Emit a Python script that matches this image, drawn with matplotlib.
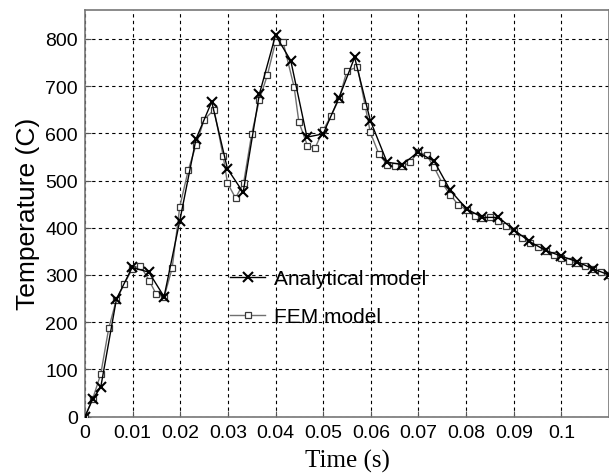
import matplotlib
matplotlib.use("Agg")
import matplotlib.pyplot as plt

# Analytical model (x markers)
t_analytical = [0, 0.0016, 0.0033, 0.0066, 0.0099, 0.0134, 0.0166, 0.0199, 0.0233,
                0.0266, 0.0299, 0.0332, 0.0366, 0.0400, 0.0432, 0.0466, 0.0500,
                0.0533, 0.0566, 0.0599, 0.0634, 0.0666, 0.0699, 0.0733, 0.0767,
                0.0801, 0.0834, 0.0868, 0.0900, 0.0933, 0.0967, 0.1000, 0.1033,
                0.1067, 0.1100]
T_analytical = [0, 37, 62, 249, 316, 306, 254, 415, 588,
                667, 525, 475, 683, 808, 754, 592, 599,
                675, 761, 627, 539, 534, 560, 541, 479,
                440, 422, 422, 396, 371, 352, 340, 328,
                313, 300]

# FEM model (square markers)
t_fem = [0, 0.0016, 0.0033, 0.0050, 0.0066, 0.0082, 0.0099, 0.0116, 0.0135, 0.0149,
         0.0166, 0.0183, 0.0199, 0.0217, 0.0233, 0.0250, 0.0271, 0.0290, 0.0299,
         0.0316, 0.0333, 0.0350, 0.0366, 0.0383, 0.0400, 0.0416, 0.0439, 0.0449,
         0.0467, 0.0483, 0.0500, 0.0516, 0.0533, 0.0550, 0.0572, 0.0588, 0.0599,
         0.0617, 0.0634, 0.0651, 0.0666, 0.0683, 0.0699, 0.0717, 0.0733, 0.0750,
         0.0767, 0.0783, 0.0801, 0.0818, 0.0834, 0.0851, 0.0868, 0.0884, 0.0900,
         0.0917, 0.0934, 0.0950, 0.0967, 0.0984, 0.1000, 0.1016, 0.1033, 0.1050,
         0.1067, 0.1084, 0.1100]
T_fem = [0, 37, 90, 188, 248, 280, 313, 320, 288, 260,
         253, 315, 445, 523, 575, 629, 650, 552, 495,
         463, 495, 599, 671, 724, 794, 793, 698, 624,
         574, 569, 607, 636, 672, 733, 740, 659, 602,
         556, 534, 530, 530, 539, 561, 554, 528, 494,
         470, 449, 438, 426, 421, 422, 415, 404, 393,
         378, 368, 359, 350, 342, 337, 330, 325, 318,
         312, 307, 299]

x_ticks = [0, 0.01, 0.02, 0.03, 0.04, 0.05, 0.06, 0.07, 0.08, 0.09, 0.1]
x_tick_labels = ["0", "0.01", "0.02", "0.03", "0.04", "0.05", "0.06", "0.07", "0.08", "0.09", "0.1"]
y_ticks = [0, 100, 200, 300, 400, 500, 600, 700, 800]
y_tick_labels = ["0", "100", "200", "300", "400", "500", "600", "700", "800"]

plt.rcParams['font.family'] = ['Liberation Sans', 'DejaVu Sans']

fig = plt.figure(figsize=(6.09, 4.77), dpi=100)
ax = fig.add_axes([85 / 609, 1 - 417.6 / 477, (609 - 85) / 609, (417.6 - 10.7) / 477])

ax.plot(t_fem, T_fem, color='#707070', lw=1.0, marker='s', markersize=5,
        markerfacecolor='white', markeredgecolor='#3a3a3a', markeredgewidth=0.9,
        label='FEM model', zorder=3)
ax.plot(t_analytical, T_analytical, color='black', lw=1.0, marker='x', markersize=6.5,
        markeredgewidth=1.5, label='Analytical model', zorder=4)

ax.set_xlim(0, 0.11)
ax.set_ylim(0, 862)
ax.set_xticks(x_ticks)
ax.set_xticklabels(x_tick_labels)
ax.set_yticks(y_ticks)
ax.set_yticklabels(y_tick_labels)
ax.tick_params(direction='in', length=4, width=0.8, color='#555555',
               labelsize=14, top=False, right=False)
ax.tick_params(axis='x', pad=5)
ax.tick_params(axis='y', pad=5)

ax.grid(True, color='black', linestyle=(0, (3, 3)), linewidth=0.8)
ax.set_axisbelow(True)
for s in ax.spines.values():
    s.set_color('#777777')
    s.set_linewidth(1.2)

ax.set_ylabel('Temperature (C)', fontsize=19, labelpad=4)
ax.set_xlabel('Time (s)', fontsize=18, family=['Liberation Serif', 'DejaVu Serif'], labelpad=6)

h, l = ax.get_legend_handles_labels()
leg = ax.legend([h[1], h[0]], [l[1], l[0]], loc='center left',
                bbox_to_anchor=(230 / 609, 1 - 298.5 / 477), bbox_transform=fig.transFigure,
                frameon=False, fontsize=15, handlelength=1.7, handletextpad=0.4,
                labelspacing=0.9, borderpad=0, borderaxespad=0)

fig.savefig('out.png', dpi=100)
